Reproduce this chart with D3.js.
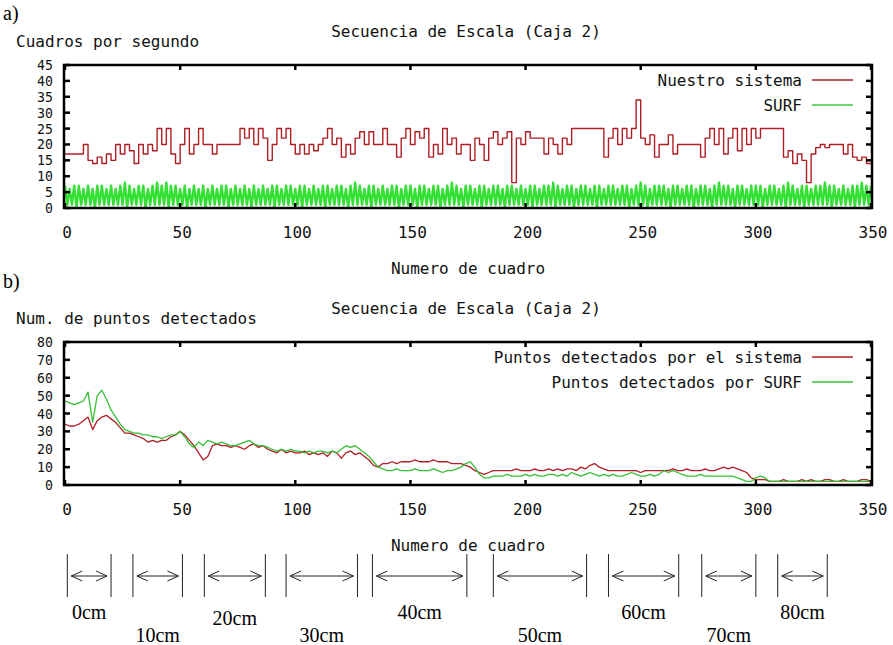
<!DOCTYPE html>
<html>
<head>
<meta charset="utf-8">
<script src="https://cdn.jsdelivr.net/npm/d3@7/dist/d3.min.js"></script>
<style>
body { margin: 0; background: #fff; }
text { font-family: "DejaVu Sans Mono", monospace; font-size: 16px; fill: #111; }
text.tick { font-size: 12px; }
text.serif { font-family: "Liberation Serif", "Times New Roman", serif; font-size: 20px; fill: #000; }
</style>
</head>
<body>
<div id="chart"></div>
<script>
// ---- data ----
const frameTicks = [0, 50, 100, 150, 200, 250, 300, 350];
const fpsTicks = [0, 5, 10, 15, 20, 25, 30, 35, 40, 45];
const pointTicks = [0, 10, 20, 30, 40, 50, 60, 70, 80];

// sampled every 2 frames (0..350)
const sampleStep = 2;

const fpsSistema = [
  17,17,17,17,20,15, 14,16,14,17,15,20, 17,20,18,14,20,17, 20,18,25,20,25,17,
  14,20,25,17,20,25, 20,20,17,20,20,20, 20,20,25,22,25,20, 25,22,15,20,25,22,
  25,20,17,20,17,20, 18,20,22,25,20,22, 16,20,17,22,24,20, 24,20,20,25,20,20,
  16,22,25,20,24,22, 25,16,20,17,25,20, 22,17,20,20,15,22, 20,15,22,24,20,22,
  24,8,22,20,24,22, 22,22,17,22,20,17, 22,20,25,25,25,25, 25,25,25,16,22,25,
  20,25,22,25,34,22, 20,23,16,20,20,23, 17,20,20,20,20,20, 16,22,25,20,25,17,
  22,25,18,25,20,25, 22,25,25,25,25,25, 16,18,14,17,15,8, 17,19,20,19,20,20,
  20,17,20,16,15,16, 14,14
];

// one value per frame (0..350)
const fpsSurf = [
  7,1,6,1,7,0,7,1,6,1,7,1,6,0,7,1,7,1,6,1,
  7,1,6,1,7,1,8,0,7,1,6,1,7,1,7,0,6,1,7,1,
  8,1,7,1,8,0,7,1,7,1,6,1,7,0,6,1,7,1,6,1,
  7,0,6,1,7,1,6,1,7,1,7,0,6,1,7,1,6,1,7,1,
  6,0,7,1,6,1,7,1,6,1,7,0,7,1,6,1,7,1,7,1,
  6,1,7,0,7,1,6,1,7,1,6,1,7,0,7,1,6,1,7,1,
  7,1,6,0,7,1,8,1,7,1,6,1,7,0,7,1,6,1,7,1,
  6,1,7,1,7,0,6,1,7,1,7,1,6,0,7,1,7,1,6,1,
  7,1,7,0,6,1,7,1,8,1,7,1,6,0,7,1,7,1,6,1,
  7,0,7,1,6,1,7,1,7,1,6,0,7,1,7,1,6,1,7,1,
  6,1,7,0,7,1,6,1,7,1,7,1,8,0,7,1,6,1,7,1,
  7,0,6,1,7,1,7,1,6,1,7,0,7,1,6,1,7,1,7,1,
  6,1,7,1,7,0,6,1,7,1,8,1,7,0,6,1,7,1,7,1,
  7,1,6,0,7,1,7,1,6,1,7,1,7,0,6,1,7,1,7,1,
  6,0,7,1,8,1,7,1,7,1,6,0,7,1,7,1,6,1,7,1,
  7,1,7,0,6,1,7,1,7,1,6,1,7,0,8,1,7,1,6,1,
  7,0,7,1,6,1,7,1,7,1,8,1,7,0,7,1,6,1,7,1,
  6,1,7,0,7,1,8,1,7,1,7
];

const puntosSistema = [
  34,33,33,34,36,38, 31,36,38,39,37,35, 32,29,29,28,27,26, 24,25,24,25,25,27,
  28,30,28,25,22,18, 14,16,22,23,22,22, 21,22,21,20,22,23, 21,22,20,19,18,20,
  18,19,18,18,19,17, 18,17,18,16,19,18, 15,18,19,17,18,16, 14,11,10,12,12,13,
  12,13,13,13,14,13, 13,13,14,13,13,13, 12,12,12,11,10,8, 7,6,7,8,8,8,
  8,8,9,8,8,8, 9,8,8,9,8,9, 8,9,9,8,10,9, 11,12,10,9,8,8,
  8,8,8,8,8,7, 8,8,8,8,8,8, 9,8,8,9,8,8, 8,9,8,8,9,10,
  9,10,9,8,7,4, 3,3,3,2,2,2, 3,2,2,2,3,2, 3,2,2,3,3,2,
  2,3,2,2,2,3, 3,2
];

const puntosSurf = [
  47,46,45,46,47,52, 35,50,53,48,42,38, 34,31,30,29,29,28, 28,27,27,26,27,28,
  28,30,27,23,21,24, 22,25,24,23,24,23, 22,22,23,24,25,23, 22,22,21,20,19,20,
  19,20,19,19,18,19, 18,19,19,18,19,18, 20,22,21,22,20,18, 16,13,10,9,8,8,
  9,8,8,8,9,8, 8,8,9,8,7,8, 8,9,10,12,13,10, 6,4,4,5,5,5,
  6,5,5,5,6,5, 6,5,5,6,6,5, 6,5,7,6,5,6, 7,6,5,6,5,6,
  5,5,6,7,6,5, 5,6,5,6,8,7, 8,7,6,5,5,5, 6,5,5,5,5,5,
  5,5,4,3,2,2, 4,5,4,2,2,2, 2,2,2,2,2,2, 2,2,2,2,2,2,
  2,2,2,2,2,2, 2,2
];

// distance ranges, in frames
const cmRanges = [[1, 20], [29.5, 51], [60.5, 87], [96, 127], [133.5, 174.5],
                  [186, 226.5], [236, 266.5], [276.5, 300], [309.5, 331]];
const cmLabels = ["0cm", "10cm", "20cm", "30cm", "40cm", "50cm", "60cm", "70cm", "80cm"];
const cmLabelRow = [0, 1, 0.26, 1, 0, 1, 0, 1, 0];

// ---- layout ----
const width = 893;
const height = 645;
const redColor = "#b01e24";
const surfTopColor = "#33e033";
const surfBottomColor = "#36bf36";

const svg = d3.select("#chart")
    .append("svg")
    .attr("width", width)
    .attr("height", height);

const x = d3.scaleLinear().domain([0, 350]).range([65, 871]);

function drawPanel(p) {
    const y = d3.scaleLinear().domain([0, p.yMax]).range([p.bottom, p.top]);
    const g = svg.append("g");

    // series
    p.series.forEach(function(s) {
        const line = d3.line()
            .x((d, i) => x(i * s.step))
            .y(d => y(d))
            .curve(s.curve);
        g.append("path")
            .datum(s.values)
            .attr("fill", "none")
            .attr("stroke", s.color)
            .attr("stroke-width", s.width)
            .attr("stroke-linejoin", "round")
            .attr("d", line);
    });

    // frame
    g.append("rect")
        .attr("x", x(0) - 1)
        .attr("y", p.top)
        .attr("width", x(350) - x(0) + 2)
        .attr("height", p.bottom - p.top)
        .attr("fill", "none")
        .attr("stroke", "#000")
        .attr("stroke-width", 2.5);

    // ticks on all four sides (mirror)
    p.yTicks.forEach(function(t) {
        g.append("line").attr("x1", x(0)).attr("x2", x(0) + 5)
            .attr("y1", y(t)).attr("y2", y(t)).attr("stroke", "#000").attr("stroke-width", 2.5);
        g.append("line").attr("x1", x(350) - 5).attr("x2", x(350))
            .attr("y1", y(t)).attr("y2", y(t)).attr("stroke", "#000").attr("stroke-width", 2.5);
        g.append("text")
            .attr("class", "tick")
            .attr("text-anchor", "end")
            .attr("transform", "translate(53," + (y(t) + 5) + ") scale(1.1,1.12)")
            .text(t);
    });
    frameTicks.forEach(function(t) {
        g.append("line").attr("x1", x(t)).attr("x2", x(t))
            .attr("y1", p.top).attr("y2", p.top + 5).attr("stroke", "#000").attr("stroke-width", 2.5);
        g.append("line").attr("x1", x(t)).attr("x2", x(t))
            .attr("y1", p.bottom - 5).attr("y2", p.bottom).attr("stroke", "#000").attr("stroke-width", 2.5);
        g.append("text")
            .attr("x", x(t) + 2)
            .attr("y", p.bottom + 30)
            .attr("text-anchor", "middle")
            .text(t);
    });

    // titles
    g.append("text").attr("x", 466).attr("y", p.top - 28)
        .attr("text-anchor", "middle").text("Secuencia de Escala (Caja 2)");
    g.append("text").attr("x", 16).attr("y", p.top - 18).text(p.yLabel);
    g.append("text").attr("x", 468).attr("y", p.bottom + 66)
        .attr("text-anchor", "middle").text("Numero de cuadro");
    g.append("text").attr("class", "serif").attr("x", 3).attr("y", p.top - p.letterOffset).text(p.letter);

    // legend
    p.series.forEach(function(s, i) {
        const ly = p.top + 15 + i * 25;
        g.append("text").attr("x", 802).attr("y", ly + 6)
            .attr("text-anchor", "end").text(s.name);
        g.append("line").attr("x1", 812).attr("x2", 853)
            .attr("y1", ly).attr("y2", ly)
            .attr("stroke", s.legendColor || s.color).attr("stroke-width", 1.5);
    });
}

function drawRanges() {
    const top = 554, bottom = 597, mid = 576;
    const g = svg.append("g");
    cmRanges.forEach(function(r, i) {
        const a = x(r[0]), b = x(r[1]);
        [a, b].forEach(function(v) {
            g.append("line").attr("x1", v).attr("x2", v).attr("y1", top).attr("y2", bottom)
                .attr("stroke", "#222").attr("stroke-width", 1);
        });
        g.append("line").attr("x1", a + 4).attr("x2", b - 4).attr("y1", mid).attr("y2", mid)
            .attr("stroke", "#222").attr("stroke-width", 1);
        g.append("path")
            .attr("d", "M" + (a + 15) + "," + (mid - 5) + "L" + (a + 4) + "," + mid + "L" + (a + 15) + "," + (mid + 5) +
                       "M" + (b - 15) + "," + (mid - 5) + "L" + (b - 4) + "," + mid + "L" + (b - 15) + "," + (mid + 5))
            .attr("fill", "none").attr("stroke", "#222").attr("stroke-width", 1);
        g.append("text").attr("class", "serif")
            .attr("x", (a + b) / 2)
            .attr("y", 619 + cmLabelRow[i] * 23)
            .attr("text-anchor", "middle")
            .text(cmLabels[i]);
    });
}

drawPanel({
    top: 65, bottom: 208, yMax: 45, yTicks: fpsTicks,
    yLabel: "Cuadros por segundo", letter: "a)", letterOffset: 45,
    series: [
        { name: "Nuestro sistema", values: fpsSistema, step: sampleStep, color: redColor, width: 1.4, curve: d3.curveStepAfter },
        { name: "SURF", values: fpsSurf, step: 1, color: surfTopColor, width: 2.4, curve: d3.curveLinear, legendColor: "#3cc83c" }
    ]
});

drawPanel({
    top: 342, bottom: 485, yMax: 80, yTicks: pointTicks,
    yLabel: "Num. de puntos detectados", letter: "b)", letterOffset: 54,
    series: [
        { name: "Puntos detectados por el sistema", values: puntosSistema, step: sampleStep, color: redColor, width: 1.3, curve: d3.curveLinear },
        { name: "Puntos detectados por SURF", values: puntosSurf, step: sampleStep, color: surfBottomColor, width: 1.3, curve: d3.curveLinear }
    ]
});

drawRanges();
</script>
</body>
</html>
